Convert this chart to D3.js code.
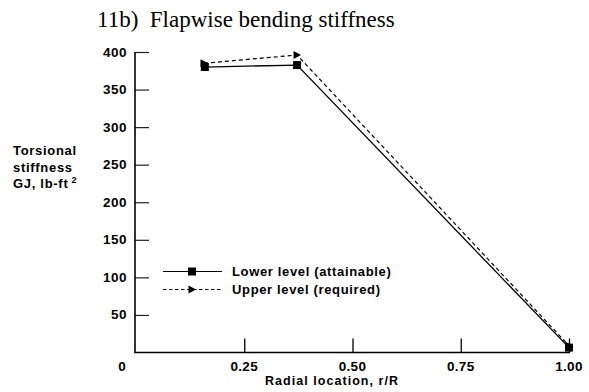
<!DOCTYPE html>
<html>
<head>
<meta charset="utf-8">
<script src="https://cdn.jsdelivr.net/npm/d3@7"></script>
<style>
  html, body { margin: 0; padding: 0; background: #fff; }
  svg { display: block; }
</style>
</head>
<body>
<svg id="chart" width="589" height="392"></svg>
<script>
// Radial stations (r/R) and stiffness values (lb-ft^2)
const lowerX = [0.159, 0.372, 1.0];
const lowerY = [380, 382.6, 6.5];
const upperX = [0.157, 0.372, 1.0];
const upperY = [385, 396, 9];

const xTicks = [0.25, 0.5, 0.75, 1.0];
const xTickLabels = ["0.25", "0.50", "0.75", "1.00"];
const yTicks = [50, 100, 150, 200, 250, 300, 350, 400];

const seriesNames = ["Lower level (attainable)", "Upper level (required)"];
const titleText = "11b)  Flapwise bending stiffness";
const xTitle = "Radial location, r/R";
const yTitleLines = ["Torsional", "stiffness", "GJ, lb-ft"];

const svg = d3.select("#chart");
const sans = "'Liberation Sans', Arial, Helvetica, sans-serif";

const x = d3.scaleLinear().domain([0, 1]).range([136, 569]);
const y = d3.scaleLinear().domain([0, 400]).range([352.5, 52]);

// Title
svg.append("text")
  .attr("x", 97).attr("y", 27)
  .attr("font-family", "'Liberation Serif', 'Times New Roman', serif")
  .attr("font-size", 23)
  .attr("xml:space", "preserve")
  .style("white-space", "pre")
  .text(titleText);

// Y axis: ticks point inward (to the right)
const yAxis = d3.axisRight(y).tickValues(yTicks).tickSize(14).tickFormat("");
const gy = svg.append("g").attr("transform", `translate(${x(0) - 1},0)`).call(yAxis);
gy.select(".domain").remove();
gy.selectAll(".tick line").attr("stroke", "#222").attr("stroke-width", 1.2);
gy.append("line")
  .attr("x1", 0).attr("x2", 0)
  .attr("y1", y(400)).attr("y2", y(0))
  .attr("stroke", "#000").attr("stroke-width", 1.6);

svg.append("g").selectAll("text").data(yTicks).join("text")
  .attr("x", 127).attr("y", d => y(d) + 4.5)
  .attr("text-anchor", "end")
  .attr("font-family", sans).attr("font-weight", "bold").attr("font-size", 13.5)
  .attr("letter-spacing", 0.5)
  .text(d => d);

// X axis: ticks point inward (upward)
const xAxis = d3.axisTop(x).tickValues(xTicks).tickSize(14).tickFormat("");
const gx = svg.append("g").attr("transform", `translate(0,${y(0)})`).call(xAxis);
gx.select(".domain").remove();
gx.selectAll(".tick line").attr("stroke", "#000").attr("stroke-width", 1.3);
gx.append("line")
  .attr("x1", x(0) - 1.8).attr("x2", x(1) + 1)
  .attr("y1", 0).attr("y2", 0)
  .attr("stroke", "#000").attr("stroke-width", 1.6);

svg.append("g").selectAll("text").data(xTicks).join("text")
  .attr("x", d => x(d)).attr("y", 371)
  .attr("text-anchor", "middle")
  .attr("font-family", sans).attr("font-weight", "bold").attr("font-size", 13.5)
  .attr("letter-spacing", 0.3)
  .text((d, i) => xTickLabels[i]);

// Shared origin label
svg.append("text")
  .attr("x", 122).attr("y", 371)
  .attr("text-anchor", "middle")
  .attr("font-family", sans).attr("font-weight", "bold").attr("font-size", 13.5)
  .text("0");

// Axis titles
svg.append("text")
  .attr("x", 332).attr("y", 385)
  .attr("text-anchor", "middle")
  .attr("font-family", sans).attr("font-weight", "bold").attr("font-size", 12.5)
  .attr("letter-spacing", 1.05)
  .text(xTitle);

const yt = svg.append("g")
  .attr("font-family", sans).attr("font-weight", "bold").attr("font-size", 13)
  .attr("letter-spacing", 0.7);
yTitleLines.forEach((t, i) => {
  const tx = yt.append("text").attr("x", 13).attr("y", 155 + i * 16.5).text(t);
  if (i === yTitleLines.length - 1) {
    tx.append("tspan").attr("font-size", 9).attr("dx", 3).attr("dy", -5).text("2");
  }
});

// Series data
const lower = lowerX.map((v, i) => [v, lowerY[i]]);
const upper = upperX.map((v, i) => [v, upperY[i]]);
const line = d3.line().x(d => x(d[0])).y(d => y(d[1]));

const tri = "M-3.5,-4L4,0L-3.5,4Z";

// Upper level: dashed line with right-pointing triangles
svg.append("path").datum(upper)
  .attr("d", line).attr("fill", "none")
  .attr("stroke", "#000").attr("stroke-width", 1.2)
  .attr("stroke-dasharray", "4,3");
svg.append("g").selectAll("path").data(upper).join("path")
  .attr("d", tri)
  .attr("transform", d => `translate(${x(d[0])},${y(d[1])})`)
  .attr("fill", "#000");

// Lower level: solid line with square markers
svg.append("path").datum(lower)
  .attr("d", line).attr("fill", "none")
  .attr("stroke", "#000").attr("stroke-width", 1.3);
svg.append("g").selectAll("rect").data(lower).join("rect")
  .attr("x", d => x(d[0]) - 4).attr("y", d => y(d[1]) - 4)
  .attr("width", 8).attr("height", 8)
  .attr("fill", "#000");

// Legend
const legend = svg.append("g");
const rows = [
  { name: seriesNames[0], y: 271.5, dash: null, mark: "square" },
  { name: seriesNames[1], y: 289.5, dash: "3.5,2.5", mark: "tri" }
];
rows.forEach(r => {
  legend.append("line")
    .attr("x1", 163).attr("x2", 222).attr("y1", r.y).attr("y2", r.y)
    .attr("stroke", "#000").attr("stroke-width", r.dash ? 1 : 1.2)
    .attr("stroke-dasharray", r.dash);
  if (r.mark === "square") {
    legend.append("rect").attr("x", 188).attr("y", r.y - 4)
      .attr("width", 8).attr("height", 8).attr("fill", "#000");
  } else {
    legend.append("path").attr("d", tri)
      .attr("transform", `translate(${192},${r.y})`).attr("fill", "#000");
  }
  legend.append("text")
    .attr("x", 232).attr("y", r.y + 4.5)
    .attr("font-family", sans).attr("font-weight", "bold").attr("font-size", 13)
    .attr("letter-spacing", 0.65)
    .text(r.name);
});
</script>
</body>
</html>
